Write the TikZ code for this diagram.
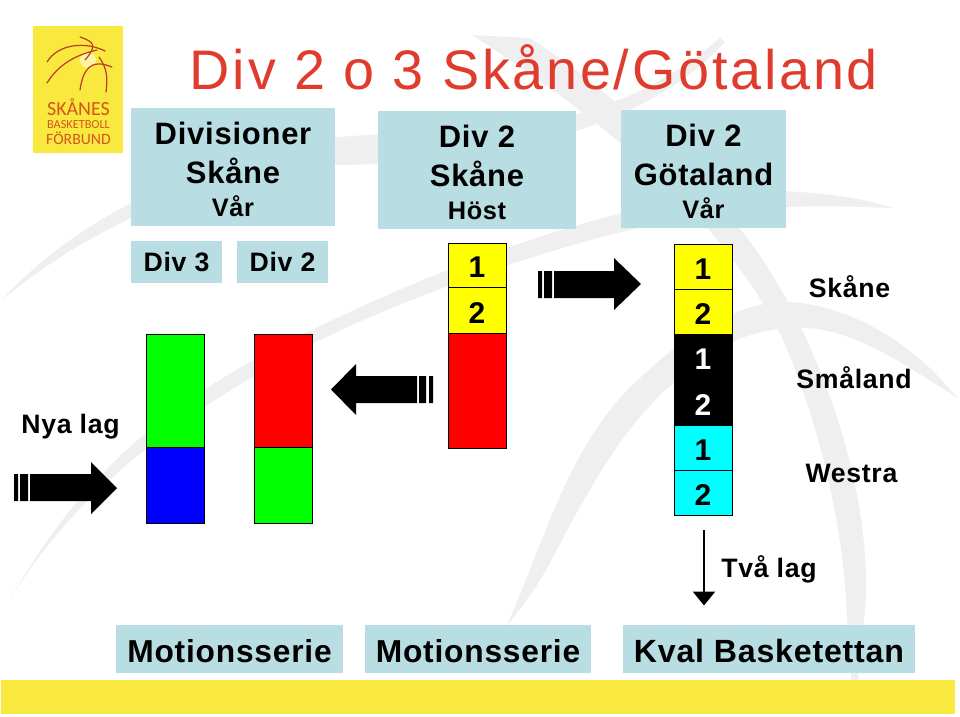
\documentclass[tikz,border=0pt]{standalone}
\usepackage{fontspec}
\usetikzlibrary{arrows.meta}
\setmainfont{Liberation Sans}
\newfontfamily\lsb{Liberation Sans}[LetterSpace=2.5]
\newfontfamily\lst{Liberation Sans}[LetterSpace=5]
\newfontfamily\logof{Carlito}
\newcommand\fsz[2]{\fontsize{#1}{#2}\selectfont}
\newcommand\dgt[1]{\rule{0pt}{19pt}#1}
\newcommand\lowr{\rule{0pt}{20.5pt}}
\newcommand\lowb{\rule{0pt}{20pt}}
\definecolor{panelblue}{RGB}{184,221,226}
\definecolor{bandgray}{RGB}{239,239,239}
\definecolor{sunyellow}{RGB}{249,233,63}
\definecolor{titlered}{RGB}{224,60,45}
\definecolor{logored}{RGB}{190,58,40}
\definecolor{logotext}{RGB}{210,86,30}
\definecolor{pureyellow}{RGB}{255,255,0}
\definecolor{purecyan}{RGB}{0,255,255}
\definecolor{puregreen}{RGB}{0,255,0}
\definecolor{purered}{RGB}{255,0,0}
\definecolor{pureblue}{RGB}{0,0,255}
\tikzset{
  box/.style 2 args={minimum width=#1*.75pt,minimum height=#2*.75pt,inner sep=0pt,outer sep=0pt},
  panel/.style={fill=panelblue,align=center,text=black},
  seg/.style={draw=black,line width=.75pt,font=\bfseries\fsz{22.5}{22.5}},
  lbl/.style={inner sep=0pt,anchor=base,font=\lsb\bfseries\fsz{20}{20}},
  blockarrow/.style={fill=black,draw=none},
  swoosh/.style={fill=bandgray,draw=none},
  logoarc/.style={draw=logored,line width=.9pt,line cap=round},
}
\begin{document}
\begin{tikzpicture}[x=.75pt,y=-.75pt]
\useasboundingbox (0,0) rectangle (960,717);
% background swooshes
\path[swoosh] (2,300) .. controls (60,235) and (170,165) .. (330,138)
  .. controls (450,125) and (590,150) .. (720,38) -- (725,42)
  .. controls (640,135) and (480,165) .. (330,165)
  .. controls (190,178) and (80,235) .. cycle;
\path[swoosh] (8,603) .. controls (50,530) and (110,440) .. (250,362)
  .. controls (400,280) and (650,180) .. (800,192)
  .. controls (840,195) and (870,200) .. (892,208)
  .. controls (840,206) and (800,205) .. (740,210)
  .. controls (620,222) and (430,285) .. (310,345)
  .. controls (160,425) and (70,500) .. cycle;
\path[swoosh] (472,35) -- (530,38) .. controls (610,90) and (660,140) .. (745,235)
  .. controls (810,320) and (870,470) .. (866,600)
  -- (857,690) -- (852,690) -- (846,600)
  .. controls (840,500) and (810,400) .. (780,333)
  .. controls (730,240) and (650,150) .. cycle;
\path[swoosh] (507,625) .. controls (545,540) and (570,440) .. (640,378)
  .. controls (680,340) and (740,295) .. (800,303)
  .. controls (860,310) and (920,350) .. (957,398)
  .. controls (900,360) and (850,330) .. (807,328)
  .. controls (760,325) and (710,345) .. (673,383)
  .. controls (620,430) and (590,490) .. (567,530)
  .. controls (550,565) and (530,600) .. cycle;
% logo
\node[box={90}{127},fill=sunyellow] (logo) at (78,89.5) {};
\fill[white,opacity=.5] (88,60) circle (8);
\draw[logoarc] (47,62) .. controls (58,44) and (85,41) .. (105,51);
\draw[logoarc] (47,83) .. controls (58,65) and (75,55) .. (97,50);
\draw[logoarc] (80,37) .. controls (95,42) and (97,46) .. (85,60);
\draw[logoarc] (80,90) .. controls (83,70) and (90,58) .. (112,67);
\draw[logoarc] (99,57) .. controls (107,68) and (108,78) .. (106,92);
\node[inner sep=0pt,anchor=base,text=logotext,font=\logof\fsz{15}{15}] (logoa) at (78.5,115) {SKÅNES};
\node[inner sep=0pt,anchor=base,text=logotext,font=\logof\fsz{9.2}{9.2}] (logob) at (78.5,128.5) {BASKETBOLL};
\node[inner sep=0pt,anchor=base,text=logotext,font=\logof\fsz{11.8}{11.8}] (logoc) at (78.5,144) {FÖRBUND};
% title
\node[inner sep=0pt,anchor=base,text=titlered,font=\lst\fsz{41.8}{41.8}] (title) at (534,89.5) {Div 2 o 3 Skåne/Götaland};
% header panels
\node[panel,box={204}{118},font=\lsb\bfseries\fsz{23.2}{29}] (hdiv) at (233,167)
  {\lowr Divisioner\\[0pt] Skåne\\[-4.5pt] {\fsz{19}{22}Vår}};
\node[panel,box={198}{118},font=\lsb\bfseries\fsz{23.2}{29}] (hhost) at (477,170)
  {\lowr Div 2\\[0pt] Skåne\\[-4.5pt] {\fsz{19}{22}Höst}};
\node[panel,box={165}{118},font=\lsb\bfseries\fsz{23.2}{29}] (hgot) at (703.5,169)
  {\lowr Div 2\\[0pt] Götaland\\[-4.5pt] {\fsz{19}{22}Vår}};
\node[panel,box={91}{42},font=\lsb\bfseries\fsz{20}{20}] (d3) at (176.5,262) {Div 3};
\node[panel,box={91}{42},font=\lsb\bfseries\fsz{20}{20}] (d2) at (282.5,262) {Div 2};
% stacks
\node[seg,box={58}{113},fill=puregreen] (c3a) at (175.5,390.5) {};
\node[seg,box={58}{76},fill=pureblue] (c3b) at (175.5,485) {};
\node[seg,box={58}{113},fill=purered] (c2a) at (283.5,390.5) {};
\node[seg,box={58}{76},fill=puregreen] (c2b) at (283.5,485) {};
\node[seg,box={58}{44},fill=pureyellow] (m1) at (477,265) {\dgt{1}};
\node[seg,box={58}{46},fill=pureyellow] (m2) at (477,310.5) {\dgt{2}};
\node[seg,box={58}{115},fill=purered] (m3) at (477,391) {};
\node[seg,box={58}{45},fill=pureyellow] (r1) at (703,266.5) {\dgt{1}};
\node[seg,box={58}{45},fill=pureyellow] (r2) at (703,311.5) {\dgt{2}};
\node[seg,box={58}{45.5},fill=black,text=white] (r3) at (703,357) {\dgt{1}};
\node[seg,box={58}{45.5},fill=black,text=white] (r4) at (703,402.5) {\dgt{2}};
\node[seg,box={58}{45},fill=purecyan] (r5) at (703,447.5) {\dgt{1}};
\node[seg,box={58}{45},fill=purecyan] (r6) at (703,492.5) {\dgt{2}};
% block arrows
\fill[blockarrow] (14,474) rectangle (18,501) (20,474) rectangle (28,501);
\fill[blockarrow] (30,474) -- (91,474) -- (91,462) -- (117,488) -- (91,514) -- (91,501) -- (30,501) -- cycle;
\fill[blockarrow] (538,271) rectangle (542,298) (544,271) rectangle (552,298);
\fill[blockarrow] (554,271) -- (614,271) -- (614,258) -- (641,284) -- (614,310) -- (614,298) -- (554,298) -- cycle;
\fill[blockarrow] (429,376) rectangle (433,403) (419,376) rectangle (426,403);
\fill[blockarrow] (417,376) -- (356,376) -- (356,364) -- (331,389.5) -- (356,415) -- (356,403) -- (417,403) -- cycle;
% side labels
\node[lbl] (nya) at (70.5,433) {Nya lag};
\node[lbl] (sk) at (849.5,297) {Skåne};
\node[lbl] (sm) at (854,388) {Småland};
\node[lbl] (we) at (851.5,482) {Westra};
\node[lbl] (tva) at (769,577) {Två lag};
% down arrow
\coordinate (dfrom) at (704,530);
\coordinate (dto) at (704,605.5);
\draw[line width=2pt,-{Triangle[width=16.5pt,length=10.5pt]}] (dfrom) -- (dto);
% bottom
\node[panel,box={227}{48},font=\lsb\bfseries\fsz{23.8}{23.8}] (mot1) at (229.5,649) {\lowb Motionsserie};
\node[panel,box={226}{48},font=\lsb\bfseries\fsz{23.8}{23.8}] (mot2) at (478,649) {\lowb Motionsserie};
\node[panel,box={292}{48},font=\lsb\bfseries\fsz{24.1}{24.1}] (kval) at (769,649) {\lowb Kval Basketettan};
\node[box={954}{34},fill=sunyellow] (strip) at (478,697) {};
\end{tikzpicture}
\end{document}
